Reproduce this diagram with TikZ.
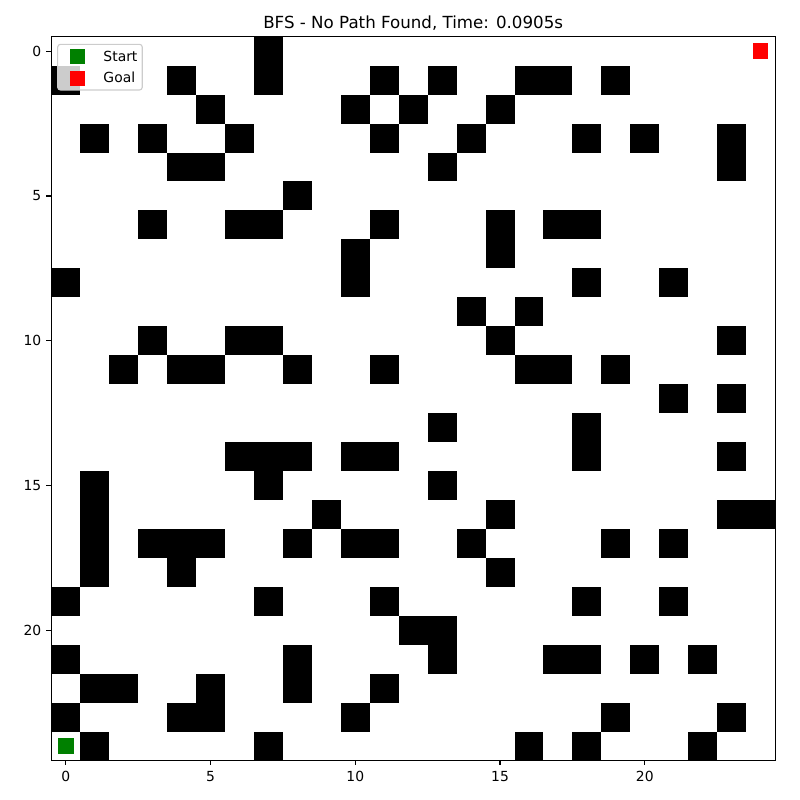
\documentclass[tikz,border=0pt]{standalone}
\usepackage{fontspec}
\setmainfont{DejaVu Sans}
\definecolor{mplgreen}{RGB}{0,128,0}
\definecolor{mplred}{RGB}{255,0,0}
\definecolor{legendedge}{RGB}{204,204,204}
\begin{document}
\begin{tikzpicture}[x=28.95pt, y=-28.95pt,
    wall/.style={fill=black},
    axisline/.style={line width=1.11pt},
    ticklabel/.style={inner sep=0pt, font=\fontsize{13.9}{16}\selectfont},
    marker/.style={inner sep=0pt, minimum size=15.5pt}]
    \useasboundingbox (-2.273,-1.769) rectangle (25.36,25.866);

    % 障碍物
    \foreach \r/\cols in {0/{7}, 1/{0,4,7,11,13,16,17,19}, 2/{5,10,12,15},
        3/{1,3,6,11,14,18,20,23}, 4/{4,5,13,23}, 5/{8}, 6/{3,6,7,11,15,17,18},
        7/{10,15}, 8/{0,10,18,21}, 9/{14,16}, 10/{3,6,7,15,23},
        11/{2,4,5,8,11,16,17,19}, 12/{21,23}, 13/{13,18},
        14/{6,7,8,10,11,18,23}, 15/{1,7,13}, 16/{1,9,15,23,24},
        17/{1,3,4,5,8,10,11,14,19,21}, 18/{1,4,15}, 19/{0,7,11,18,21},
        20/{12,13}, 21/{0,8,13,17,18,20,22}, 22/{1,2,5,8,11},
        23/{0,4,5,10,19,23}, 24/{1,7,16,18,22}}
        \foreach \c in \cols
            \fill[wall] (\c-0.5,\r-0.5) rectangle (\c+0.5,\r+0.5);

    % 坐标轴
    \draw[axisline] (-0.5,-0.5) rectangle (24.5,24.5);
    \foreach \t in {0,5,10,15,20} {
        \draw[axisline] (\t,24.5) -- ++(0,0.169);
        \node[ticklabel, anchor=north] (xt\t) at (\t,24.88) {\t};
        \draw[axisline] (-0.5,\t) -- ++(-0.169,0);
        \node[ticklabel, anchor=east] (yt\t) at (-0.838,\t) {\t};
    }

    % 起点和终点
    \node[marker, fill=mplgreen] (start) at (0,24) {};
    \node[marker, fill=mplred] (goal) at (24,0) {};

    % 图例
    \draw[legendedge, fill=white, fill opacity=0.8, rounded corners=2.8pt,
        line width=1.11pt] (-0.280,-0.238) rectangle (2.642,1.340);
    \node[marker, fill=mplgreen] (startkey) at (0.404,0.19) {};
    \node[marker, fill=mplred] (goalkey) at (0.404,0.936) {};
    \node[ticklabel, anchor=base west] (startlabel) at (1.295,0.363) {Start};
    \node[ticklabel, anchor=base west] (goallabel) at (1.295,1.098) {Goal};

    % 标题
    \node[inner sep=0pt, anchor=base, font=\fontsize{16.67}{20}\selectfont]
        (title) at (12,-0.788) {BFS - No Path Found, Time: 0.0905s};
\end{tikzpicture}
\end{document}
